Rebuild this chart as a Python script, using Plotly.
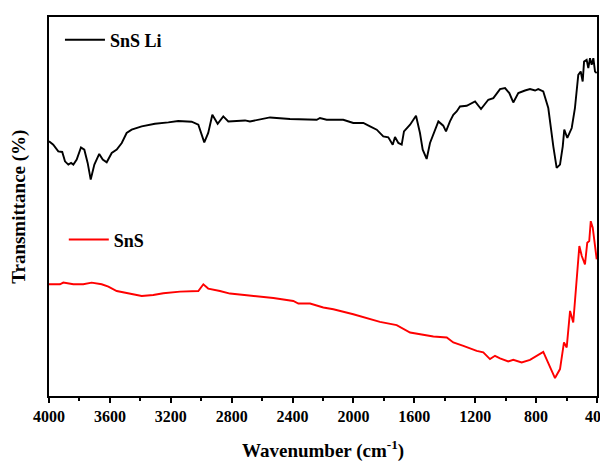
import plotly.graph_objects as go

# SnS Li (black) spectrum: wavenumber (cm-1) and transmittance (arb. units)
snsli_wn = [4000, 3972, 3939, 3913, 3895, 3873, 3855, 3840, 3818, 3790, 3768, 3746, 3726, 3702,
            3670, 3647, 3621, 3588, 3555, 3522, 3490, 3457, 3391, 3304, 3216, 3151, 3063, 3019,
            2980, 2954, 2927, 2892, 2855, 2822, 2712, 2680, 2548, 2417, 2241, 2220, 2176, 2067,
            2001, 1935, 1891, 1847, 1804, 1771, 1742, 1727, 1705, 1683, 1668, 1628, 1589, 1563,
            1545, 1519, 1497, 1453, 1442, 1410, 1392, 1366, 1344, 1322, 1300, 1256, 1201, 1162,
            1114, 1081, 1037, 1004, 976, 950, 917, 873, 840, 807, 786, 753, 720, 687, 665, 643,
            625, 615, 595, 566, 545, 523, 507, 494, 485, 468, 457, 446, 435, 424, 413, 402]
snsli_t = [255.3, 252, 245.3, 244.7, 235.3, 232, 233.7, 232, 237, 249.3, 247, 233.7, 217, 232,
           242.7, 237, 234.3, 243.7, 247, 253.7, 263.7, 267, 270.3, 273, 274.3, 275.7, 275, 272,
           254.3, 263.7, 282, 273, 280.3, 275.3, 276.3, 275.3, 279.3, 277.7, 277, 278.7, 277, 277,
           273.7, 273.7, 270.3, 267, 260.3, 259.3, 252, 259.7, 253.7, 252, 265.3, 272, 281, 263.7,
           247, 237.7, 253.7, 270.3, 275.3, 271, 265.3, 275.3, 282, 285.3, 290.3, 291, 295.3, 287.7,
           297, 298.7, 307.7, 308.7, 303.7, 294.3, 303.7, 306.3, 307.7, 306.3, 307.7, 305.3, 288.7,
           250.3, 228.7, 232, 250.3, 267, 258.7, 268.7, 288.7, 322, 325.3, 315.3, 335.3, 337,
           328.7, 338.7, 332, 338.7, 325.3, 323.7]

# SnS (red) spectrum
sns_wn = [4000, 3928, 3906, 3840, 3775, 3720, 3654, 3610, 3555, 3479, 3391, 3315, 3249, 3139,
          3019, 2986, 2954, 2877, 2811, 2701, 2526, 2395, 2362, 2285, 2198, 2132, 2088, 2001,
          1826, 1716, 1628, 1563, 1475, 1387, 1344, 1278, 1190, 1147, 1103, 1070, 1037, 983,
          950, 895, 840, 753, 720, 676, 643, 617, 599, 577, 556, 533, 516, 500, 479, 464, 451,
          441, 428, 402]
sns_t = [112, 112, 113.7, 112, 112, 113.7, 112, 109.7, 105.3, 102.7, 100.3, 101.3, 103, 104.7,
         105.3, 112, 107.7, 105.3, 102.7, 101, 98.3, 95.3, 92.7, 92.7, 88.7, 87, 85.3, 82,
         74.3, 71, 63.7, 62, 59.7, 58.7, 53.7, 50.3, 45.3, 43.7, 37, 40.3, 37.7, 34.7,
         36.3, 33.7, 36.3, 44.3, 33.7, 18, 27, 53.7, 48.7, 85.3, 73.7, 113.7, 150.3, 140.3, 132,
         153.7, 155.3, 175.3, 168.7, 137]

x_ticks = [4000, 3600, 3200, 2800, 2400, 2000, 1600, 1200, 800, 400]

FONT = "Liberation Serif"

fig = go.Figure()
fig.add_trace(go.Scatter(x=snsli_wn, y=snsli_t, mode="lines", name="<b>SnS Li</b>",
                         line=dict(color="black", width=1.9), legend="legend", showlegend=True))
fig.add_trace(go.Scatter(x=sns_wn, y=sns_t, mode="lines", name="<b>SnS</b>",
                         line=dict(color="#ff0000", width=1.9), legend="legend2", showlegend=True))

# the page body has an 8px margin; the figure is shifted by it and its overflow is cropped
fig.update_layout(
    width=608, height=455,
    margin=dict(l=41, r=19, t=9, b=67),
    paper_bgcolor="white", plot_bgcolor="white",
    font=dict(family=FONT, color="black"),
    showlegend=True,
    legend=dict(x=0.02, y=0.988, xanchor="left", yanchor="top",
                bgcolor="rgba(0,0,0,0)", font=dict(family=FONT, size=18, color="black"),
                itemwidth=40, visible=True),
    legend2=dict(x=0.027, y=0.461, xanchor="left", yanchor="top",
                 bgcolor="rgba(0,0,0,0)", font=dict(family=FONT, size=18, color="black"),
                 itemwidth=40, visible=True),
    xaxis=dict(
        range=[4000, 400], tickvals=x_ticks,
        ticktext=[f"<b>{v}</b>" for v in x_ticks],
        ticks="outside", ticklen=5, tickwidth=1.5, tickcolor="black",
        minor=dict(dtick=200, ticks="outside", ticklen=3, tickwidth=1.5, tickcolor="black"),
        showline=True, linecolor="black", linewidth=1.5, mirror=True,
        showgrid=False, zeroline=False, automargin=False,
        tickfont=dict(family=FONT, size=16, color="black"),
    ),
    yaxis=dict(
        range=[0, 380], showticklabels=False, ticks="",
        showline=True, linecolor="black", linewidth=1.5, mirror=True,
        showgrid=False, zeroline=False, automargin=False,
    ),
    annotations=[
        dict(text="<b>Wavenumber (cm<sup>-1</sup>)</b>", xref="paper", yref="paper",
             x=0.5, y=-0.14, xanchor="center", yanchor="middle", showarrow=False,
             font=dict(family=FONT, size=19, color="black")),
        dict(text="<b>Transmittance (%)</b>", xref="paper", yref="paper",
             x=-0.056, y=0.5, xanchor="center", yanchor="middle", showarrow=False,
             textangle=-90, font=dict(family=FONT, size=19, color="black")),
    ],
)

fig.write_html("out.html")
